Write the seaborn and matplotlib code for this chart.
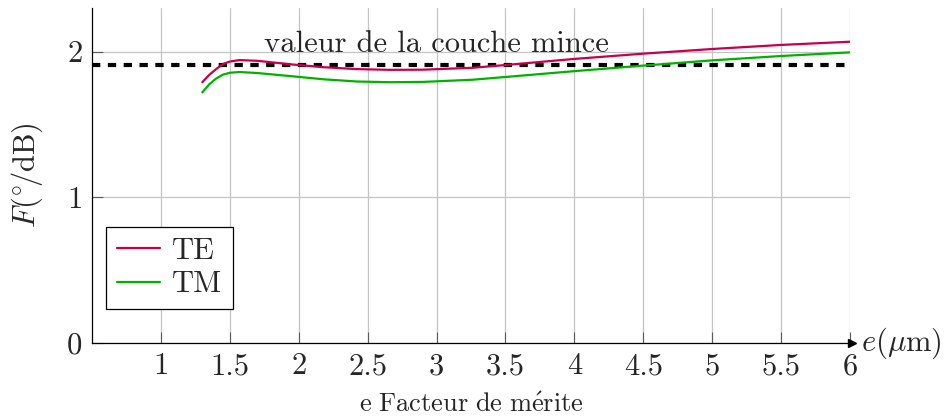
import numpy as np
import pandas as pd
import seaborn as sns
import matplotlib.pyplot as plt

# thickness e (um) and figure of merit F (deg/dB)
e_um = [1.3, 1.35, 1.4, 1.45, 1.5, 1.57, 1.7, 1.94, 2.18, 2.42, 2.66, 2.9,
        3.26, 3.5, 4.0, 4.5, 5.0, 5.5, 6.0]
F_TE = [1.79, 1.84, 1.88, 1.915, 1.932, 1.942, 1.937, 1.913, 1.893, 1.88,
        1.875, 1.876, 1.889, 1.908, 1.95, 1.986, 2.018, 2.046, 2.068]
F_TM = [1.72, 1.775, 1.815, 1.842, 1.855, 1.86, 1.853, 1.832, 1.81, 1.795,
        1.79, 1.792, 1.807, 1.826, 1.866, 1.904, 1.94, 1.97, 1.995]
couche_mince = 1.91

xticks = [1, 1.5, 2, 2.5, 3, 3.5, 4, 4.5, 5, 5.5, 6]
yticks = [0, 1, 2]

df = pd.DataFrame({
    'e': e_um * 2,
    'F': F_TE + F_TM,
    'mode': ['TE'] * len(e_um) + ['TM'] * len(e_um),
})

sns.set_theme(style='whitegrid')
plt.rcParams['font.family'] = 'serif'
plt.rcParams['font.serif'] = ['cmr10']
plt.rcParams['mathtext.fontset'] = 'cm'
plt.rcParams['axes.formatter.use_mathtext'] = True

fig = plt.figure(figsize=(9.45, 4.17), dpi=100)
ax = fig.add_axes([0.0974, 0.1775, 0.8021, 0.8035])

ax.axhline(couche_mince, color='black', lw=3, dashes=(2.0, 1.8), zorder=2)
sns.lineplot(data=df, x='e', y='F', hue='mode',
             palette={'TE': '#c6004c', 'TM': '#00b200'},
             lw=1.6, ax=ax, zorder=3)

ax.set_xlim(0.5, 6)
ax.set_ylim(0, 2.3)
ax.set_xticks(xticks)
ax.set_xticklabels([f'{t:g}' for t in xticks])
ax.set_yticks(yticks)
ax.set_yticklabels([str(t) for t in yticks])
ax.grid(True, color='#c4c4c4', lw=0.9)
ax.set_facecolor('white')
for s in ['top', 'right']:
    ax.spines[s].set_visible(False)
for s in ['left', 'bottom']:
    ax.spines[s].set_color('black')
    ax.spines[s].set_linewidth(0.9)
ax.tick_params(direction='in', length=8, width=0.8, color='0.35',
               labelsize=22, pad=7, bottom=True, left=True)

ax.plot(1.003, 0, marker='>', color='black', ms=6,
        transform=ax.get_yaxis_transform(), clip_on=False)

ax.set_xlabel(r'$\mathrm{e\ Facteur\ de\ m\acute{e}rite}$', fontsize=19,
              labelpad=9)
ax.set_ylabel(r'$F(^{\circ}\!/\mathrm{dB})$', fontsize=22, labelpad=16)
ax.text(1.015, 0, r'$e(\mu\mathrm{m})$', transform=ax.transAxes,
        ha='left', va='center', fontsize=22)
ax.text(3.0, 2.05, 'valeur de la couche mince', ha='center', va='center',
        fontsize=22)

leg = ax.legend(loc='lower left', bbox_to_anchor=(0.0185, 0.1015),
                borderaxespad=0, fontsize=22, fancybox=False,
                edgecolor='black', framealpha=1, handlelength=1.4,
                handletextpad=0.4, labelspacing=0.2, borderpad=0.35)
leg.get_frame().set_linewidth(0.9)

fig.savefig('out.png', dpi=100)
